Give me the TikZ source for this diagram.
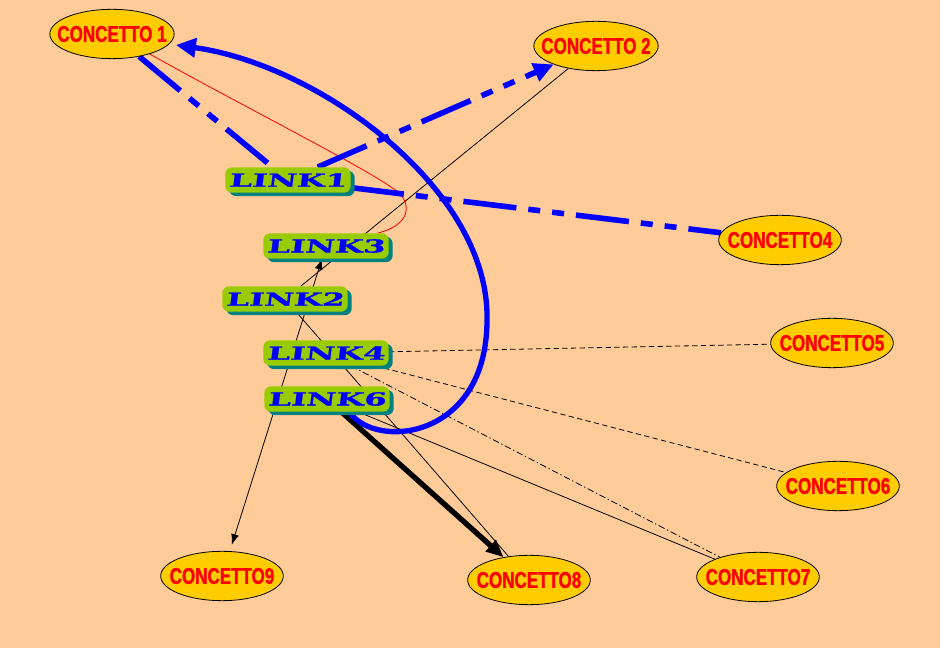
\documentclass[tikz,border=0pt]{standalone}
\usepackage{fontspec}
\usepackage{xcolor}
\usetikzlibrary{arrows.meta,shapes.geometric,shadows,backgrounds}
\newfontfamily\cptfont{Liberation Sans}[FakeStretch=0.75,FakeBold=1.2]
\newfontfamily\lnkfont{DejaVu Serif}[FakeStretch=1.8,FakeSlant=0.12,FakeBold=1]
\definecolor{peach}{HTML}{FFCC99}
\definecolor{gold}{HTML}{FFCC00}
\definecolor{lime}{HTML}{99CC00}
\definecolor{shade}{HTML}{008080}
\definecolor{ink}{HTML}{0000FF}
\definecolor{txt}{HTML}{FF0000}
\tikzset{
  concept/.style={ellipse,draw=black,line width=0.6pt,fill=gold,minimum width=92pt,minimum height=37pt,inner xsep=-8pt,inner ysep=2pt,text=txt,font=\cptfont\bfseries\fontsize{17}{17}\selectfont},
  linkbox/.style={rectangle,rounded corners=5pt,fill=lime,minimum width=94pt,minimum height=19pt,inner sep=0pt,text=ink,font=\lnkfont\bfseries\fontsize{13.5}{13.5}\selectfont,drop shadow={shadow xshift=3pt,shadow yshift=-2.6pt,fill=shade,opacity=1}},
  thinline/.style={black,line width=0.6pt},
  blueline/.style={ink,line width=4.2pt,dash pattern=on 40pt off 9pt on 9pt off 9pt on 9pt off 9pt},
  bluecurve/.style={ink,line width=4pt},
  bigtip/.style={-{Triangle[length=15pt,width=14pt]}},
}

\begin{document}
\begin{tikzpicture}[x=0.75pt,y=-0.75pt]
\begin{pgfonlayer}{background}
\fill[peach] (0,0) rectangle (940,648);
\end{pgfonlayer}
\useasboundingbox (0,0) rectangle (940,648);
% concepts
\node[concept] (c1) at (112,34) {CONCETTO 1};
\node[concept] (c2) at (596,46) {CONCETTO 2};
\node[concept] (c4) at (780,240) {CONCETTO4};
\node[concept] (c5) at (832,343) {CONCETTO5};
\node[concept] (c6) at (838,486) {CONCETTO6};
\node[concept] (c7) at (758,577) {CONCETTO7};
\node[concept] (c8) at (529,580) {CONCETTO8};
\node[concept] (c9) at (222,576) {CONCETTO9};
% links
\node[linkbox] (link1) at (288,180) {LINK1};
\node[linkbox] (link3) at (326,246) {LINK3};
\node[linkbox] (link2) at (285,299) {LINK2};
\node[linkbox] (link4) at (326,353) {LINK4};
\node[linkbox] (link6) at (327,399) {LINK6};
% connectors
\begin{pgfonlayer}{background}
\draw[thinline] (c2) -- (link2);
\draw[thinline,{Latex[length=8pt,width=6pt]}-{Latex[length=8pt,width=6pt]},shorten >=5pt] (link3) -- (c9);
\draw[thinline] (link2) -- (c8);
\draw[thinline] (link6) -- (c7);
\draw[thinline,dash pattern=on 5pt off 2pt on 1pt off 2pt] (link4) -- (c7);
\draw[thinline,dash pattern=on 4pt off 2.5pt] (link4) -- (c5);
\draw[thinline,dash pattern=on 4pt off 2.5pt] (link4) -- (c6);
\draw[red,line width=0.6pt] (c1.-28) .. controls (250,110) and (370,170) .. (398,192) .. controls (412,205) and (410,225) .. (link3.14);
\draw[blueline] (c1) -- (link1);
\draw[blueline,bigtip] (link1) -- (c2);
\draw[blueline] (link1) -- (c4);
\draw[line width=4pt,-{Triangle[length=13pt,width=11pt]}] (link6) -- (c8);
\draw[bluecurve,bigtip,shorten >=5pt] (link6.-30) .. controls (375,450) and (487,440) .. (487,320) .. controls (490,190) and (320,65) .. (c1.-10);
\end{pgfonlayer}
\end{tikzpicture}
\end{document}
